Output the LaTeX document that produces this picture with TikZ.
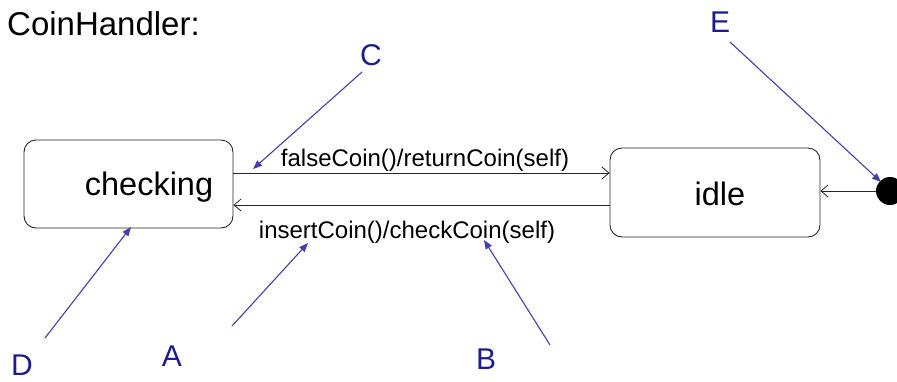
\documentclass[tikz,border=0pt]{standalone}
\usepackage{fontspec}
\setmainfont{Liberation Sans}
\usetikzlibrary{arrows.meta}
\definecolor{lettercol}{RGB}{28,28,140}
\definecolor{calloutcol}{RGB}{70,62,170}
\begin{document}
\begin{tikzpicture}[x=1pt,y=-1pt,
  state/.style={draw=black!85,line width=0.9pt,rounded corners=12pt,inner sep=0pt},
  trans/.style={draw=black!85,line width=0.9pt,-{Straight Barb[length=7pt,width=12pt,line width=0.8pt]}},
  evt/.style={font=\fontsize{24}{27}\selectfont,inner sep=0pt},
  statetxt/.style={font=\fontsize{32.5}{36}\selectfont,inner sep=0pt},
  letter/.style={font=\fontsize{30}{33}\selectfont,text=lettercol,inner sep=0pt},
  callout/.style={draw=calloutcol,line width=1.1pt,-{Triangle[length=9pt,width=7pt]}}]
\useasboundingbox (0,0) rectangle (897,381);
\clip (0,0) rectangle (897,381);

% title
\node[font=\fontsize{33}{36}\selectfont,anchor=west,inner sep=0pt] (title) at (7,24) {CoinHandler:};

% states
\node[state,minimum width=209pt,minimum height=88pt] (checking) at (128.5,184) {};
\node[statetxt] (checkingtxt) at (149,187) {checking};
\node[state,minimum width=210pt,minimum height=89pt] (idle) at (715,192.5) {};
\node[statetxt] (idletxt) at (720,194) {idle};

% initial pseudostate
\node[circle,fill=black,minimum size=28pt,inner sep=0pt] (init) at (890,191) {};

% transitions
\draw[trans] (checking.east |- 0,173) -- (idle.west |- 0,173);
\draw[trans] (idle.west |- 0,205) -- (checking.east |- 0,205);
\draw[trans] (init.west) -- (idle.east |- init.west);

% event labels
\node[evt] (falselbl) at (425,160) {falseCoin()/returnCoin(self)};
\node[evt] (insertlbl) at (407,232) {insertCoin()/checkCoin(self)};

% callout letters
\node[letter] (A) at (172,356) {A};
\node[letter] (B) at (486,359) {B};
\node[letter] (C) at (371,55) {C};
\node[letter] (D) at (22,365) {D};
\node[letter] (E) at (720,22) {E};

% callout arrows
\coordinate (Astart) at (232,326);  \coordinate (Atip) at (308,243);
\coordinate (Bstart) at (550,345);  \coordinate (Btip) at (484,240);
\coordinate (Cstart) at (362,72);   \coordinate (Ctip) at (253,169);
\coordinate (Dstart) at (45,338);   \coordinate (Dtip) at (131,227);
\coordinate (Estart) at (730,42);   \coordinate (Etip) at (881,182);
\draw[callout] (Astart) -- (Atip);
\draw[callout] (Bstart) -- (Btip);
\draw[callout] (Cstart) -- (Ctip);
\draw[callout] (Dstart) -- (Dtip);
\draw[callout] (Estart) -- (Etip);
\end{tikzpicture}
\end{document}
